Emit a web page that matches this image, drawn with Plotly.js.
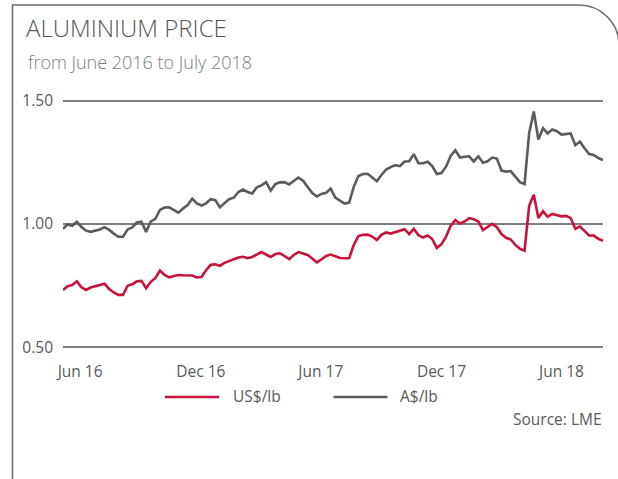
<!DOCTYPE html>
<html>
<head>
<meta charset="utf-8">
<script src="https://cdn.plot.ly/plotly-3.0.1.min.js"></script>
<style>
  html, body { margin: 0; padding: 0; background: #ffffff; }
  #chart { width: 618px; height: 479px; }
</style>
</head>
<body>
<div id="chart"></div>
<script>
// Weekly LME aluminium price, first week 6 May 2016
const firstWeek = '2016-05-06';

const usdPerLb = [0.732,0.747,0.752,0.767,0.743,0.732,0.742,0.747,0.751,0.757,
0.736,0.722,0.712,0.712,0.749,0.755,0.767,0.769,0.739,0.765,
0.780,0.811,0.793,0.783,0.789,0.793,0.792,0.792,0.791,0.783,
0.785,0.812,0.834,0.836,0.830,0.842,0.849,0.856,0.864,0.867,
0.861,0.866,0.876,0.886,0.876,0.866,0.878,0.881,0.870,0.857,
0.874,0.886,0.880,0.874,0.860,0.844,0.856,0.870,0.876,0.870,
0.862,0.861,0.861,0.915,0.951,0.956,0.957,0.949,0.935,0.956,
0.966,0.961,0.966,0.973,0.979,0.959,0.980,0.955,0.945,0.953,
0.939,0.903,0.918,0.949,0.993,1.016,1.002,1.010,1.024,1.019,
1.010,0.975,0.988,1.001,0.987,0.959,0.944,0.937,0.915,0.899,
0.892,1.074,1.119,1.024,1.052,1.029,1.041,1.036,1.031,1.033,
1.024,0.981,0.990,0.972,0.953,0.953,0.940,0.932];

const audPerLb = [0.980,0.998,0.993,1.009,0.988,0.973,0.968,0.972,0.978,0.987,
0.976,0.961,0.948,0.948,0.978,0.986,1.006,1.009,0.968,1.010,
1.021,1.057,1.067,1.068,1.057,1.046,1.063,1.077,1.103,1.084,
1.075,1.084,1.101,1.097,1.068,1.084,1.101,1.107,1.130,1.140,
1.130,1.124,1.149,1.157,1.170,1.136,1.162,1.169,1.170,1.161,
1.174,1.189,1.176,1.152,1.126,1.112,1.122,1.127,1.144,1.107,
1.094,1.083,1.087,1.151,1.195,1.203,1.204,1.187,1.174,1.199,
1.221,1.231,1.239,1.235,1.254,1.255,1.284,1.247,1.247,1.253,
1.235,1.203,1.207,1.233,1.277,1.300,1.270,1.273,1.275,1.254,
1.275,1.249,1.255,1.270,1.266,1.217,1.213,1.215,1.191,1.170,
1.162,1.369,1.457,1.343,1.389,1.368,1.384,1.377,1.363,1.365,
1.368,1.320,1.335,1.308,1.284,1.280,1.268,1.260];

const xTickVals = ['2016-06-01','2016-12-01','2017-06-01','2017-12-01','2018-06-01'];
const xTickText = ['Jun 16','Dec 16','Jun 17','Dec 17','Jun 18'];
const yTickVals = [0.5, 1.0, 1.5];
const yTickText = ['0.50','1.00','1.50'];
const seriesNames = ['US$/lb','A$/lb'];

// weekly dates
const t0 = Date.parse(firstWeek + 'T00:00:00Z');
const weeks = usdPerLb.map((_, i) => new Date(t0 + i * 7 * 86400000).toISOString().slice(0, 10));

const RED = '#C8133B';
const GREY = '#5b5b5b';
const TXT = '#595959';
const FONT = '"Open Sans", "Liberation Sans", sans-serif';

// layout geometry (pixels -> paper)
const W = 618, H = 479;
const M = {l: 63, r: 15, t: 96, b: 127};
const PW = W - M.l - M.r, PH = H - M.t - M.b;
const px = x => (x - M.l) / PW;
const py = y => (H - M.b - y) / PH;

const traces = [
  {x: weeks, y: usdPerLb, name: seriesNames[0], type: 'scatter', mode: 'lines',
   line: {color: RED, width: 2.6}, hoverinfo: 'skip'},
  {x: weeks, y: audPerLb, name: seriesNames[1], type: 'scatter', mode: 'lines',
   line: {color: GREY, width: 2.6}, hoverinfo: 'skip'}
];

const framePath = `M ${px(12.5)} ${py(490)} L ${px(12.5)} ${py(5)} L ${px(579)} ${py(5)} C ${px(601)} ${py(5)}, ${px(619)} ${py(23)}, ${px(619)} ${py(45)}`;

const layout = {
  width: W, height: H,
  margin: M,
  paper_bgcolor: '#ffffff', plot_bgcolor: 'rgba(0,0,0,0)',
  font: {family: FONT, color: TXT, size: 15},
  showlegend: false,
  title: {
    text: 'ALUMINIUM PRICE',
    x: 26 / W, xref: 'container', xanchor: 'left',
    y: 1 - 29 / H, yref: 'container', yanchor: 'middle',
    font: {family: FONT, size: 24, color: '#555555', weight: 300}
  },
  xaxis: {
    type: 'date',
    range: [weeks[0], weeks[weeks.length - 1]],
    tickmode: 'array', tickvals: xTickVals, ticktext: xTickText,
    showgrid: false, zeroline: false, showline: false, ticks: '',
    tickfont: {family: FONT, size: 15.5, color: TXT},
    ticklabelstandoff: 8,
    fixedrange: true
  },
  yaxis: {
    range: [0.48, 1.52],
    tickmode: 'array', tickvals: yTickVals, ticktext: yTickText,
    showgrid: true, gridcolor: '#7f7f7f', gridwidth: 1.4,
    zeroline: false, showline: false, ticks: '',
    tickfont: {family: FONT, size: 15.5, color: TXT},
    ticklabelstandoff: 9,
    fixedrange: true
  },
  shapes: [
    {type: 'path', xref: 'paper', yref: 'paper', path: framePath,
     line: {color: '#6e6e6e', width: 1.6}},
    {type: 'line', xref: 'paper', yref: 'paper', x0: px(165), x1: px(219), y0: py(397), y1: py(397),
     line: {color: RED, width: 2.6}},
    {type: 'line', xref: 'paper', yref: 'paper', x0: px(333.5), x1: px(387.5), y0: py(397), y1: py(397),
     line: {color: GREY, width: 2.6}}
  ],
  annotations: [
    {text: 'from June 2016 to July 2018', xref: 'paper', yref: 'paper',
     x: px(26), y: py(62), xanchor: 'left', yanchor: 'middle', showarrow: false,
     font: {family: FONT, size: 18, color: '#7d7d7d', weight: 300}},
    {text: seriesNames[0], xref: 'paper', yref: 'paper',
     x: px(231), y: py(396), xanchor: 'left', yanchor: 'middle', showarrow: false,
     font: {family: FONT, size: 15.5, color: TXT}},
    {text: seriesNames[1], xref: 'paper', yref: 'paper',
     x: px(398), y: py(396), xanchor: 'left', yanchor: 'middle', showarrow: false,
     font: {family: FONT, size: 15.5, color: TXT}},
    {text: 'Source: LME', xref: 'paper', yref: 'paper',
     x: px(604), y: py(419), xanchor: 'right', yanchor: 'middle', showarrow: false,
     font: {family: FONT, size: 15.5, color: TXT}}
  ]
};

Plotly.newPlot('chart', traces, layout, {staticPlot: true, displayModeBar: false});
</script>
</body>
</html>
